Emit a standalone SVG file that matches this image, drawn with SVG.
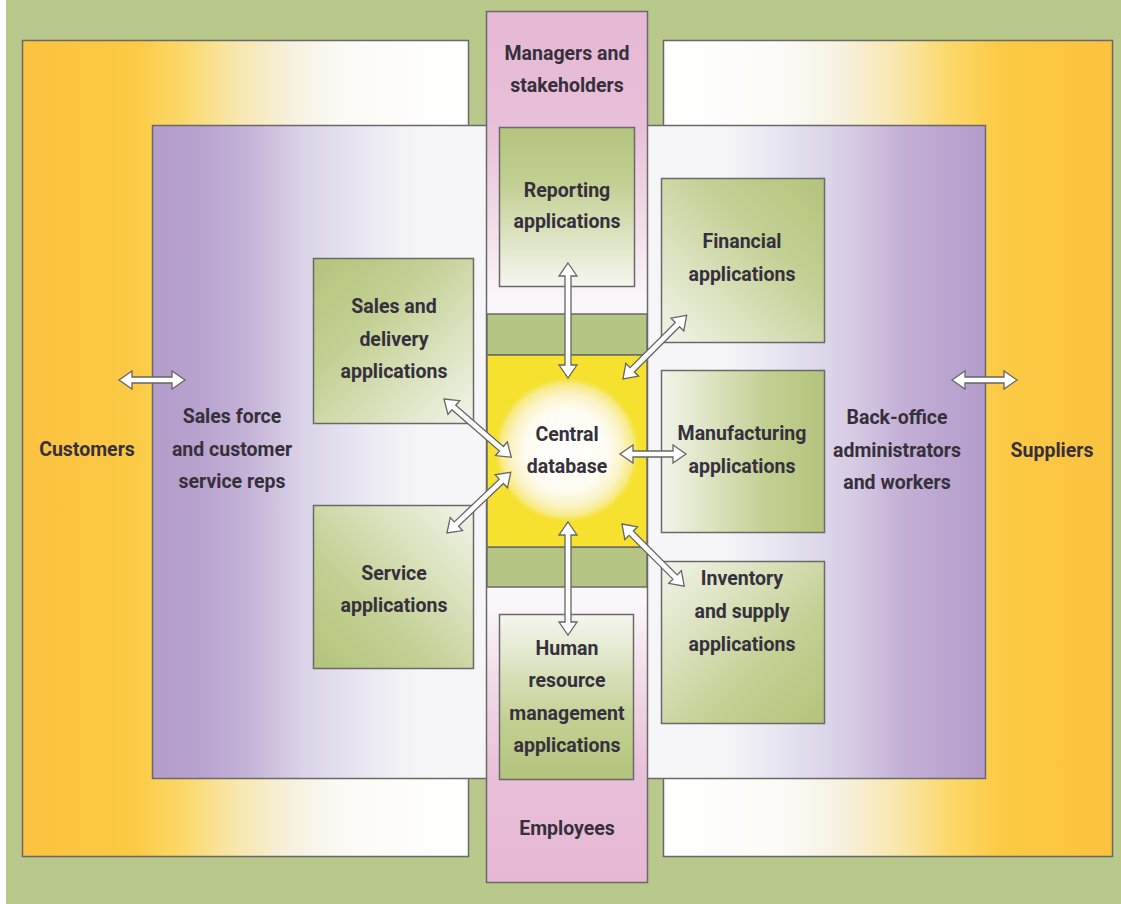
<svg xmlns="http://www.w3.org/2000/svg" width="1121" height="904" viewBox="0 0 1121 904">
<defs>
<style>
.lbl{font-family:Roboto,"Liberation Sans","DejaVu Sans",sans-serif;font-weight:700;font-size:19.5px;fill:#36303c;text-anchor:middle}
.edge{stroke:#6b6868;stroke-width:1.5}
.arr{fill:#ffffff;stroke:#666;stroke-width:1.3;stroke-linejoin:miter}
</style>
<linearGradient id="gOrangeL" x1="0" y1="0" x2="1" y2="0">
<stop offset="0" stop-color="#fbc23f"/><stop offset="0.25" stop-color="#fcca44"/><stop offset="0.36" stop-color="#fcd86a"/><stop offset="0.48" stop-color="#f8e7ad"/><stop offset="0.6" stop-color="#f6f0de"/><stop offset="0.72" stop-color="#fbfaf6"/><stop offset="1" stop-color="#ffffff"/>
</linearGradient>
<linearGradient id="gOrangeR" x1="1" y1="0" x2="0" y2="0">
<stop offset="0" stop-color="#fbc23f"/><stop offset="0.25" stop-color="#fcca44"/><stop offset="0.36" stop-color="#fcd86a"/><stop offset="0.48" stop-color="#f8e7ad"/><stop offset="0.6" stop-color="#f6f0de"/><stop offset="0.72" stop-color="#fbfaf6"/><stop offset="1" stop-color="#ffffff"/>
</linearGradient>
<linearGradient id="gPurple" x1="0" y1="0" x2="1" y2="0">
<stop offset="0" stop-color="#b49dcb"/><stop offset="0.06" stop-color="#b8a2ce"/><stop offset="0.12" stop-color="#c6b5d8"/><stop offset="0.18" stop-color="#dbd3e8"/><stop offset="0.26" stop-color="#ebe9f2"/><stop offset="0.32" stop-color="#f6f6f9"/><stop offset="0.68" stop-color="#f6f6f9"/><stop offset="0.75" stop-color="#e8e6f1"/><stop offset="0.84" stop-color="#d6cbe4"/><stop offset="0.9" stop-color="#c4b0d6"/><stop offset="1" stop-color="#b39ccb"/>
</linearGradient>
<linearGradient id="gPink" x1="0" y1="0" x2="0" y2="1">
<stop offset="0" stop-color="#e6b8d4"/><stop offset="0.13" stop-color="#e8bfd8"/><stop offset="0.24" stop-color="#f1dce8"/><stop offset="0.33" stop-color="#fbf6f9"/><stop offset="0.68" stop-color="#fbf6f9"/><stop offset="0.78" stop-color="#f0d8e6"/><stop offset="0.88" stop-color="#e8bfd8"/><stop offset="1" stop-color="#e6b8d4"/>
</linearGradient>
<radialGradient id="gCore" cx="0.5" cy="0.5" r="0.5">
<stop offset="0" stop-color="#ffffff"/><stop offset="0.55" stop-color="#fefcf2"/><stop offset="0.75" stop-color="#fbf3c8"/><stop offset="0.9" stop-color="#f8ea80"/><stop offset="1" stop-color="#f5e12e" stop-opacity="0"/>
</radialGradient>
<linearGradient id="gDown" x1="0" y1="0" x2="0" y2="1"><stop offset="0" stop-color="#b3c47d"/><stop offset="0.35" stop-color="#c2cf92"/><stop offset="1" stop-color="#f5f6ef"/></linearGradient>
<linearGradient id="gUp" x1="0" y1="1" x2="0" y2="0"><stop offset="0" stop-color="#b3c47d"/><stop offset="0.35" stop-color="#c2cf92"/><stop offset="1" stop-color="#f5f6ef"/></linearGradient>
<linearGradient id="gSE" x1="0" y1="0" x2="1" y2="1"><stop offset="0" stop-color="#b3c47d"/><stop offset="0.35" stop-color="#c2cf92"/><stop offset="1" stop-color="#f2f4ea"/></linearGradient>
<linearGradient id="gNE" x1="0" y1="1" x2="1" y2="0"><stop offset="0" stop-color="#b3c47d"/><stop offset="0.35" stop-color="#c2cf92"/><stop offset="1" stop-color="#f2f4ea"/></linearGradient>
<linearGradient id="gSW" x1="1" y1="0" x2="0" y2="1"><stop offset="0" stop-color="#b3c47d"/><stop offset="0.35" stop-color="#c2cf92"/><stop offset="1" stop-color="#f2f4ea"/></linearGradient>
<linearGradient id="gW" x1="1" y1="0" x2="0" y2="0"><stop offset="0" stop-color="#b3c47d"/><stop offset="0.35" stop-color="#c2cf92"/><stop offset="1" stop-color="#f2f4ea"/></linearGradient>
<linearGradient id="gNW" x1="1" y1="1" x2="0" y2="0"><stop offset="0" stop-color="#b3c47d"/><stop offset="0.35" stop-color="#c2cf92"/><stop offset="1" stop-color="#f2f4ea"/></linearGradient>
</defs>

<rect x="0" y="0" width="1121" height="904" fill="#ffffff"/>
<rect x="6" y="0" width="1115" height="904" fill="#b8c98b"/>

<g id="customers">
<rect class="edge" x="22.5" y="40.5" width="446" height="816" fill="url(#gOrangeL)"/>
</g>
<g id="suppliers">
<rect class="edge" x="663.5" y="40.5" width="449" height="816" fill="url(#gOrangeR)"/>
</g>
<g id="staff">
<rect class="edge" x="152.5" y="125.5" width="833" height="653" fill="url(#gPurple)"/>
</g>
<g id="managers-employees">
<rect class="edge" x="486.5" y="11.5" width="161" height="871" fill="url(#gPink)"/>
</g>
<g id="central-database">
<rect class="edge" x="487" y="314" width="160" height="41" fill="#b5c583"/>
<rect class="edge" x="487" y="547" width="160" height="40" fill="#b5c583"/>
<rect class="edge" x="487" y="355" width="160" height="192" fill="#f5e12e"/>
<circle cx="567" cy="450" r="74" fill="url(#gCore)"/>
<text class="lbl" x="567" y="441">Central</text>
<text class="lbl" x="567" y="473">database</text>
</g>

<g id="reporting">
<rect class="edge" x="499.5" y="127.5" width="135" height="159" fill="url(#gDown)"/>
<text class="lbl" x="567" y="197">Reporting</text>
<text class="lbl" x="567" y="228">applications</text>
</g>
<g id="hr">
<rect class="edge" x="499.5" y="614.5" width="134" height="165" fill="url(#gUp)"/>
<text class="lbl" x="567" y="655">Human</text>
<text class="lbl" x="567" y="687">resource</text>
<text class="lbl" x="567" y="720">management</text>
<text class="lbl" x="567" y="752">applications</text>
</g>
<g id="sales">
<rect class="edge" x="313.5" y="258.5" width="160" height="165" fill="url(#gSE)"/>
<text class="lbl" x="394" y="313">Sales and</text>
<text class="lbl" x="394" y="346">delivery</text>
<text class="lbl" x="394" y="378">applications</text>
</g>
<g id="service">
<rect class="edge" x="313.5" y="505.5" width="160" height="163" fill="url(#gNE)"/>
<text class="lbl" x="394" y="580">Service</text>
<text class="lbl" x="394" y="612">applications</text>
</g>
<g id="financial">
<rect class="edge" x="661.5" y="178.5" width="163" height="164" fill="url(#gSW)"/>
<text class="lbl" x="742" y="248">Financial</text>
<text class="lbl" x="742" y="281">applications</text>
</g>
<g id="manufacturing">
<rect class="edge" x="661.5" y="370.5" width="163" height="162" fill="url(#gW)"/>
<text class="lbl" x="742" y="440">Manufacturing</text>
<text class="lbl" x="742" y="473">applications</text>
</g>
<g id="inventory">
<rect class="edge" x="661.5" y="561.5" width="163" height="162" fill="url(#gNW)"/>
<text class="lbl" x="742" y="585">Inventory</text>
<text class="lbl" x="742" y="618">and supply</text>
<text class="lbl" x="742" y="651">applications</text>
</g>

<g id="labels">
<text class="lbl" x="567" y="60">Managers and</text>
<text class="lbl" x="567" y="92">stakeholders</text>
<text class="lbl" x="567" y="835">Employees</text>
<text class="lbl" x="87" y="456">Customers</text>
<text class="lbl" x="232" y="423">Sales force</text>
<text class="lbl" x="232" y="456">and customer</text>
<text class="lbl" x="232" y="488">service reps</text>
<text class="lbl" x="897" y="424">Back-office</text>
<text class="lbl" x="897" y="457">administrators</text>
<text class="lbl" x="897" y="489">and workers</text>
<text class="lbl" x="1052" y="457">Suppliers</text>
</g>

<g id="connectors">
<path class="arr" transform="translate(568,263) rotate(90)" d="M0,0 L13,-9 L13,-3 L102,-3 L102,-9 L115,0 L102,9 L102,3 L13,3 L13,9 Z"/>
<path class="arr" transform="translate(568,522) rotate(90)" d="M0,0 L13,-9 L13,-3 L100,-3 L100,-9 L113,0 L100,9 L100,3 L13,3 L13,9 Z"/>
<path class="arr" transform="translate(444,399) rotate(40.9)" d="M0,0 L13,-9 L13,-3 L76,-3 L76,-9 L89,0 L76,9 L76,3 L13,3 L13,9 Z"/>
<path class="arr" transform="translate(447,533) rotate(-43.6)" d="M0,0 L13,-9 L13,-3 L75,-3 L75,-9 L88,0 L75,9 L75,3 L13,3 L13,9 Z"/>
<path class="arr" transform="translate(623,379) rotate(-45)" d="M0,0 L13,-9 L13,-3 L77,-3 L77,-9 L90,0 L77,9 L77,3 L13,3 L13,9 Z"/>
<path class="arr" transform="translate(620,454)" d="M0,0 L13,-9 L13,-3 L53,-3 L53,-9 L66,0 L53,9 L53,3 L13,3 L13,9 Z"/>
<path class="arr" transform="translate(622,524) rotate(45)" d="M0,0 L13,-9 L13,-3 L75,-3 L75,-9 L88,0 L75,9 L75,3 L13,3 L13,9 Z"/>
<path class="arr" transform="translate(119,380)" d="M0,0 L13,-9 L13,-3 L53,-3 L53,-9 L66,0 L53,9 L53,3 L13,3 L13,9 Z"/>
<path class="arr" transform="translate(952,380)" d="M0,0 L13,-9 L13,-3 L52,-3 L52,-9 L65,0 L52,9 L52,3 L13,3 L13,9 Z"/>
</g>
</svg>
